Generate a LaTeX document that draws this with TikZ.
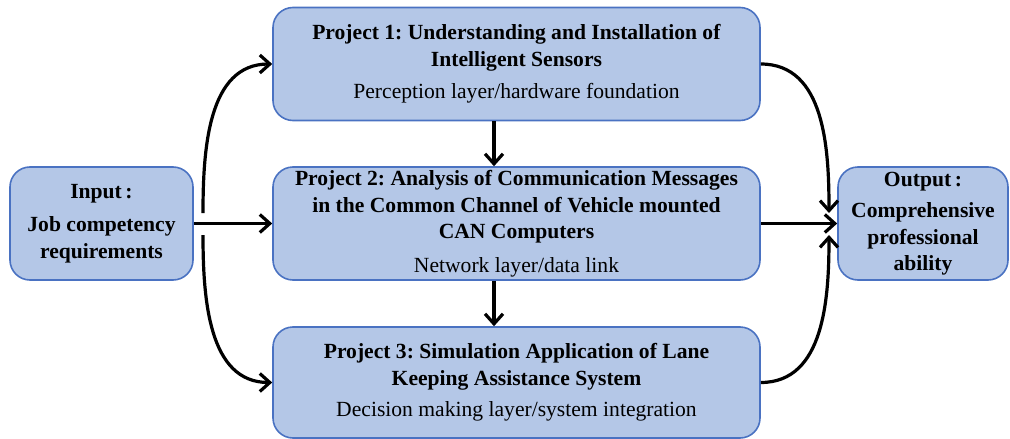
\documentclass[tikz,border=0pt]{standalone}
\usepackage{fontspec}
\setmainfont{Liberation Serif}
\usetikzlibrary{arrows.meta}
\definecolor{boxfill}{HTML}{B4C7E7}
\definecolor{boxline}{HTML}{4A72C2}
\tikzset{
  stagebox/.style={draw=boxline, fill=boxfill, line width=1.6pt, rounded corners=20pt,
    align=center, inner sep=0pt, font=\fontsize{21.6}{26.5}\selectfont\frenchspacing},
  arr/.style={line width=3.2pt, -{Straight Barb[length=10pt,width=18pt]}},
}
\newcommand{\fwcolon}{\,:\hspace{0.45em}}
\begin{document}
\begin{tikzpicture}[x=1pt,y=-1pt]
\useasboundingbox (0,0) rectangle (1010,439);
\node[stagebox, minimum width=183pt, minimum height=113pt] (in) at (101.5,223.5)
  {\textbf{Input\fwcolon}\\[7pt]\textbf{Job competency}\\\textbf{requirements}};
\node[stagebox, minimum width=487pt, minimum height=113pt] (p1) at (516.5,64)
  {\textbf{Project 1: Understanding and Installation of}\\\textbf{Intelligent Sensors}\\[6pt]Perception layer/hardware foundation};
\node[stagebox, minimum width=487pt, minimum height=113pt] (p2) at (516.5,223.5)
  {\textbf{Project 2: Analysis of Communication Messages}\\\textbf{in the Common Channel of Vehicle mounted}\\\textbf{CAN Computers}\\[7pt]Network layer/data link};
\node[stagebox, minimum width=487pt, minimum height=111pt] (p3) at (516.5,382.5)
  {\textbf{Project 3: Simulation Application of Lane}\\\textbf{Keeping Assistance System}\\[5pt]Decision making layer/system integration};
\node[stagebox, minimum width=170pt, minimum height=113pt] (out) at (923,223.5)
  {\textbf{Output\fwcolon}\\[5pt]\textbf{Comprehensive}\\\textbf{professional}\\\textbf{ability}};
\coordinate (lu) at (203,213);
\coordinate (ld) at (203,235);
\coordinate (ru) at (829,213);
\coordinate (rd) at (829,235);
\coordinate (vx) at (494,0);
\draw[arr] (in.east) -- (p2.west);
\draw[arr] (lu) to[out=90,in=180] (p1.west);
\draw[arr] (ld) to[out=-90,in=180] (p3.west);
\draw[arr] (p1.south -| vx) -- (p2.north -| vx);
\draw[arr] (p2.south -| vx) -- (p3.north -| vx);
\draw[arr] (p2.east) -- (out.west);
\draw[arr] (p1.east) to[out=0,in=90] (ru);
\draw[arr] (p3.east) to[out=0,in=-90] (rd);
\end{tikzpicture}
\end{document}
